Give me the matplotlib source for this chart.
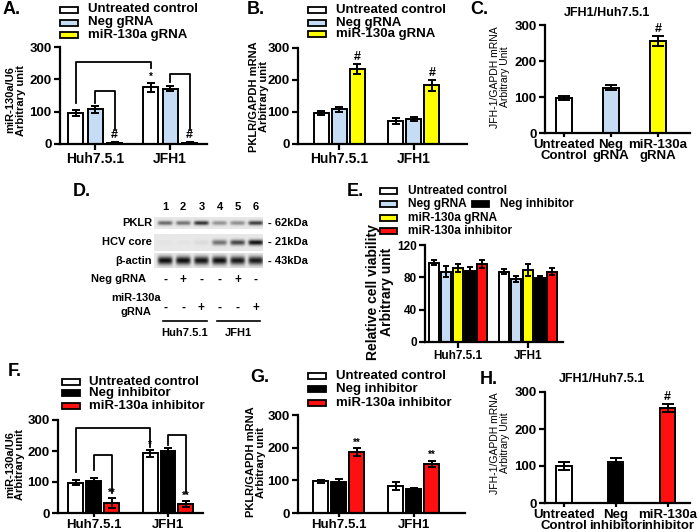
import numpy as np
import matplotlib
matplotlib.use("Agg")
import matplotlib.pyplot as plt
from matplotlib.patches import Rectangle

plt.rcParams["font.family"] = ["Liberation Sans", "DejaVu Sans"]
plt.rcParams["font.weight"] = "bold"

W, H = 700, 532

# ---------------- data ----------------
groups = ["Huh7.5.1", "JFH1"]
gRNA_labels = ["Untreated control", "Neg gRNA", "miR-130a gRNA"]
inh_labels = ["Untreated control", "Neg inhibitor", "miR-130a inhibitor"]

WHITE, BLUE, YELLOW, BLACK, RED = "white", "#c6dcf4", "#ffff00", "black", "#ff1010"
gRNA_colors = [WHITE, BLUE, YELLOW]
inh_colors = [WHITE, BLACK, RED]

# A. miR-130a/U6, gRNA
mir_gRNA = [[97, 107, 4], [175, 171, 4]]
mir_gRNA_err = [[9, 10, 2], [14, 8, 2]]
# B. PKLR/GAPDH, gRNA
pklr_gRNA = [[97, 108, 235], [72, 78, 183]]
pklr_gRNA_err = [[5, 9, 15], [8, 6, 17]]
# C. JFH-1/GAPDH, gRNA
jfh_gRNA = [98, 126, 255]
jfh_gRNA_err = [6, 7, 14]
c_ticks = ["Untreated\nControl", "Neg\ngRNA", "miR-130a\ngRNA"]
# D. western blot (band darkness 0-1)
lane_names = ["1", "2", "3", "4", "5", "6"]
pklr_band = [0.6, 0.55, 0.85, 0.4, 0.42, 0.8]
core_band = [0.02, 0.02, 0.06, 0.55, 0.75, 1.0]
actin_band = [1.0, 1.0, 0.97, 1.0, 0.95, 0.95]
neg_gRNA_sign = ["-", "+", "-", "-", "+", "-"]
mir_gRNA_sign = ["-", "-", "+", "-", "-", "+"]
# E. cell viability
viab_labels = ["Untreated control", "Neg gRNA", "miR-130a gRNA", "Neg inhibitor", "miR-130a inhibitor"]
viab_colors = [WHITE, BLUE, YELLOW, BLACK, RED]
viab = [[98, 87, 92, 88, 96], [87, 78, 89, 79, 87]]
viab_err = [[3, 7, 5, 5, 5], [3, 4, 7, 3, 4]]
# F. miR-130a/U6, inhibitor
mir_inh = [[97, 102, 33], [193, 201, 28]]
mir_inh_err = [[8, 12, 16], [11, 8, 10]]
# G. PKLR/GAPDH, inhibitor
pklr_inh = [[97, 95, 186], [82, 73, 150]]
pklr_inh_err = [[5, 10, 12], [12, 4, 10]]
# H. JFH-1/GAPDH, inhibitor
jfh_inh = [100, 112, 257]
jfh_inh_err = [12, 10, 10]
h_ticks = ["Untreated\nControl", "Neg\ninhibitor", "miR-130a\ninhibitor"]

fig = plt.figure(figsize=(W / 100, H / 100), dpi=100)

# overlay in pixel coordinates for labels, legends and the blot
ov = fig.add_axes([0, 0, 1, 1])
ov.axis("off")


def make_ax(x0, x1, ytop, ybot):
    ax = fig.add_axes([x0 / W, 1 - ybot / H, (x1 - x0) / W, (ybot - ytop) / H])
    ax.set_facecolor("none")
    return ax


def style(ax, ymax, ystep, fs=9.5):
    for s in ["top", "right"]:
        ax.spines[s].set_visible(False)
    for s in ["left", "bottom"]:
        ax.spines[s].set_linewidth(1.6)
    ax.set_ylim(0, ymax)
    ax.set_yticks(np.arange(0, ymax + 1, ystep))
    ax.tick_params(width=1.6, length=4, labelsize=fs, pad=2)


def grouped(ax, vals, errs, colors, step, width, cap=3):
    vals, errs = np.array(vals), np.array(errs)
    n = vals.shape[1]
    x = np.arange(vals.shape[0])
    for i in range(n):
        ax.bar(x + (i - (n - 1) / 2) * step, vals[:, i], width, color=colors[i],
               edgecolor="black", linewidth=1.4, yerr=errs[:, i], capsize=cap,
               error_kw=dict(elinewidth=1.4, capthick=1.4), zorder=2)
    ax.set_xticks(x)
    ax.set_xticklabels(groups)


def simple(ax, vals, errs, colors, width, labels, fs):
    x = np.arange(len(vals))
    ax.bar(x, vals, width, color=colors, edgecolor="black", linewidth=1.4,
           yerr=errs, capsize=4, error_kw=dict(elinewidth=1.4, capthick=1.4), zorder=2)
    ax.set_xticks(x)
    ax.set_xticklabels(labels, fontsize=fs, linespacing=0.95)


def bracket(ax, x1, y1, x2, y2, top):
    ax.plot([x1, x1, x2, x2], [y1, top, top, y2], color="black", lw=1.3, clip_on=False)


def legend_rows(xp, xt, rows, labels, colors, fs=9.5, pw=18, ph=6):
    for y, lab, c in zip(rows, labels, colors):
        ov.add_patch(Rectangle((xp, y - ph / 2), pw, ph, facecolor=c, edgecolor="black", lw=1.3))
        ov.text(xt, y, lab, fontsize=fs, va="center", ha="left")


def ylab(x, y, s, fs=8, weight="bold"):
    ov.text(x, y, s, rotation=90, ha="center", va="center", fontsize=fs,
            linespacing=1.0, multialignment="center", fontweight=weight)


def letter(x, y, s):
    ov.text(x, y, s, fontsize=13, ha="left", va="center")


# ---------------- A ----------------
axA = make_ax(60, 207, 47, 144)
grouped(axA, mir_gRNA, mir_gRNA_err, gRNA_colors, 0.26, 0.2)
style(axA, 300, 100)
axA.tick_params(axis="x", labelsize=10)
axA.set_xlim(-0.467, 1.493)
bracket(axA, -0.26, 127, 0.74, 235, 254)
bracket(axA, 0, 127, 0.26, 43, 165)
bracket(axA, 1, 192, 1.26, 43, 216)
axA.text(0.74, 191, "*", ha="center", va="bottom", fontsize=7)
for g in range(2):
    axA.text(g + 0.26, mir_gRNA[g][2] + mir_gRNA_err[g][2] + 2, "#", ha="center", va="bottom", fontsize=9)
legend_rows(60, 88, [9.5, 22.5, 35], gRNA_labels, gRNA_colors)
ylab(15.5, 100, "miR-130a/U6\nArbitrary unit")
letter(3, 10, "A.")

# ---------------- B ----------------
axB = make_ax(298, 467, 48, 144)
grouped(axB, pklr_gRNA, pklr_gRNA_err, gRNA_colors, 0.24, 0.2)
style(axB, 300, 100)
axB.tick_params(axis="x", labelsize=10)
axB.set_xlim(-0.547, 1.707)
for g in range(2):
    axB.text(g + 0.24, pklr_gRNA[g][2] + pklr_gRNA_err[g][2] + 3, "#", ha="center", va="bottom", fontsize=9)
legend_rows(308, 336, [10, 22.7, 34.3], gRNA_labels, gRNA_colors)
ylab(259, 97, "PKLR/GAPDH mRNA\nArbitrary unit")
letter(247, 10, "B.")

# ---------------- C ----------------
axC = make_ax(545, 690, 25, 133)
simple(axC, jfh_gRNA, jfh_gRNA_err, gRNA_colors, 0.34, c_ticks, 9.5)
style(axC, 300, 100)
axC.tick_params(axis="x", length=3, pad=1)
axC.set_xlim(-0.40, 2.68)
axC.text(2, jfh_gRNA[2] + jfh_gRNA_err[2] + 3, "#", ha="center", va="bottom", fontsize=9)
ov.text(607, 13, "JFH1/Huh7.5.1", fontsize=9, ha="center", va="center")
ylab(500, 77, "JFH-1/GAPDH mRNA\nArbitrary Unit", fs=7.5, weight="normal")
letter(470, 10, "C.")

# ---------------- D: western blot ----------------
lane_x = 165 + 18.2 * np.arange(len(lane_names))


def band_strip(y0, y1, dark, thick):
    xs = np.linspace(154, 263, 220)
    ys = np.linspace(y0, y1, 40)
    X, Y = np.meshgrid(xs, ys)
    yc = (y0 + y1) / 2
    img = np.zeros_like(X)
    for lx, d in zip(lane_x, dark):
        img += d * np.exp(-((X - lx) / 7.5) ** 6) * np.exp(-((Y - yc) / thick) ** 2)
    img = 0.91 - 0.85 * np.clip(img, 0, 1)
    ov.imshow(img, cmap="gray", vmin=0, vmax=1, extent=[154, 263, y1, y0],
              aspect="auto", interpolation="bilinear")


band_strip(217, 229, pklr_band, 2.2)
band_strip(234, 251, core_band, 2.8)
band_strip(253, 268, actin_band, 4.2)
for lx, n, s1, s2 in zip(lane_x, lane_names, neg_gRNA_sign, mir_gRNA_sign):
    ov.text(lx, 207, n, fontsize=8, ha="center", va="center")
    ov.text(lx, 280, s1, fontsize=8.5, ha="center", va="center")
    ov.text(lx, 308, s2, fontsize=8.5, ha="center", va="center")
for y, lab, kd in zip([223, 242, 261], ["PKLR", "HCV core", "β-actin"], ["62kDa", "21kDa", "43kDa"]):
    ov.text(152, y, lab, fontsize=8, ha="right", va="center")
    ov.text(268, y, "- " + kd, fontsize=8, ha="left", va="center")
ov.text(146, 279, "Neg gRNA", fontsize=8, ha="right", va="center")
ov.text(136, 305, "miR-130a\ngRNA", fontsize=8, ha="center", va="center", linespacing=1.6)
ov.plot([163, 207], [321, 321], color="black", lw=1.2)
ov.plot([217, 260], [321, 321], color="black", lw=1.2)
ov.text(185, 333, groups[0], fontsize=8, ha="center", va="center")
ov.text(238, 333, groups[1], fontsize=8, ha="center", va="center")
letter(73, 191, "D.")

# ---------------- E ----------------
axE = make_ax(425, 563, 245, 342)
grouped(axE, viab, viab_err, viab_colors, 0.171, 0.136, cap=2)
style(axE, 120, 40, fs=8.5)
axE.set_xlim(-0.47, 1.5)
legend_rows(380, 408, [191, 204, 218, 231], [viab_labels[i] for i in (0, 1, 2, 4)],
            [viab_colors[i] for i in (0, 1, 2, 4)], fs=8.6, pw=17, ph=5.5)
legend_rows(472, 500, [204], [viab_labels[3]], [viab_colors[3]], fs=8.6, pw=17, ph=5.5)
ylab(380, 292, "Relative cell viability\nArbitrary unit", fs=10)
letter(347, 192, "E.")

# ---------------- F ----------------
axF = make_ax(58, 203, 420, 513)
grouped(axF, mir_inh, mir_inh_err, inh_colors, 0.24, 0.2)
style(axF, 300, 100)
axF.tick_params(axis="x", labelsize=9.5, length=3, pad=1)
axF.set_xlim(-0.48, 1.47)
bracket(axF, -0.24, 132, 0.76, 213, 274)
bracket(axF, 0, 139, 0.24, 65, 187)
bracket(axF, 1, 219, 1.24, 65, 252)
axF.text(0.76, 204, "*", ha="center", va="bottom", fontsize=7)
for g in range(2):
    axF.text(g + 0.24, mir_inh[g][2] + mir_inh_err[g][2] + 1, "**", ha="center", va="bottom", fontsize=7)
legend_rows(62, 89, [381.7, 393.3, 405.7], inh_labels, inh_colors)
ylab(15, 465, "miR-130a/U6\nArbitrary unit")
letter(8, 372, "F.")

# ---------------- G ----------------
axG = make_ax(298, 465, 415, 513)
grouped(axG, pklr_inh, pklr_inh_err, inh_colors, 0.24, 0.2)
style(axG, 300, 100)
axG.tick_params(axis="x", labelsize=9.5, length=3, pad=1)
axG.set_xlim(-0.547, 1.687)
for g in range(2):
    axG.text(g + 0.24, pklr_inh[g][2] + pklr_inh_err[g][2] + 2, "**", ha="center", va="bottom", fontsize=7)
legend_rows(308, 336, [376, 389.3, 402.7], inh_labels, inh_colors)
ylab(256, 462, "PKLR/GAPDH mRNA\nArbitrary unit")
letter(250, 378, "G.")

# ---------------- H ----------------
axH = make_ax(545, 690, 392, 503)
simple(axH, jfh_inh, jfh_inh_err, inh_colors, 0.3, h_ticks, 8)
style(axH, 300, 100)
axH.tick_params(axis="x", length=3, pad=1)
axH.set_xlim(-0.36, 2.43)
axH.text(2, jfh_inh[2] + jfh_inh_err[2] + 3, "#", ha="center", va="bottom", fontsize=9)
ov.text(602, 379, "JFH1/Huh7.5.1", fontsize=9, ha="center", va="center")
ylab(500, 443, "JFH-1/GAPDH mRNA\nArbitrary Unit", fs=7.5, weight="normal")
letter(480, 379, "H.")

ov.set_xlim(0, W)
ov.set_ylim(H, 0)

fig.savefig("out.png", dpi=100)
